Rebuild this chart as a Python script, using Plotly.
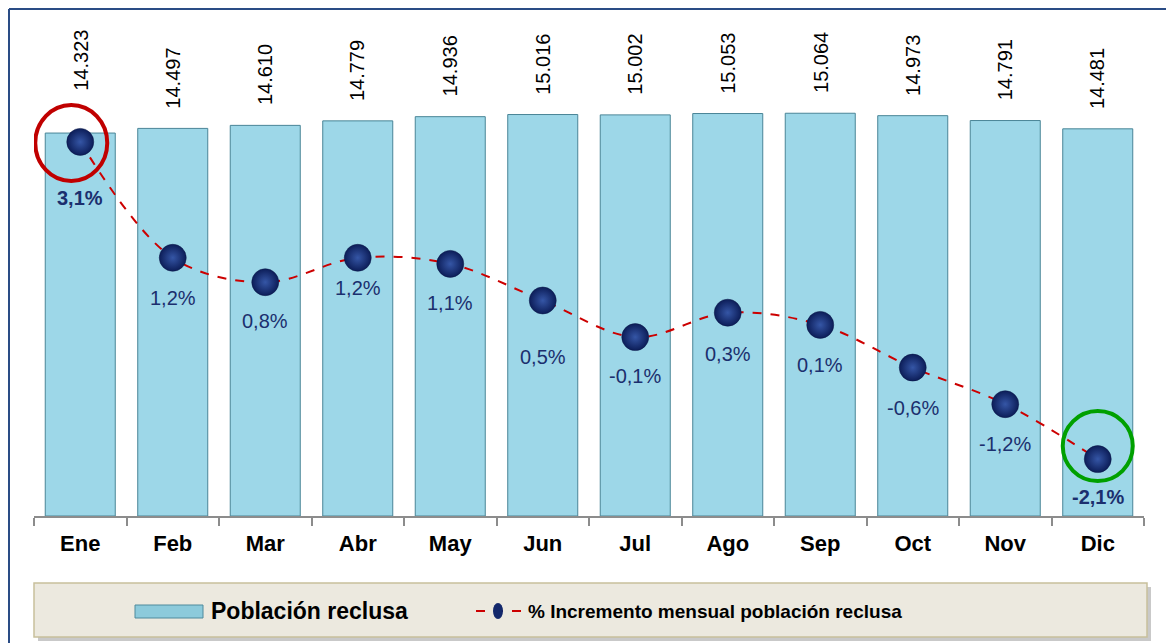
import plotly.graph_objects as go

# data
months = ['Ene', 'Feb', 'Mar', 'Abr', 'May', 'Jun', 'Jul', 'Ago', 'Sep', 'Oct', 'Nov', 'Dic']
poblacion = [14323, 14497, 14610, 14779, 14936, 15016, 15002, 15053, 15064, 14973, 14791, 14481]
incremento = [3.1, 1.2, 0.8, 1.2, 1.1, 0.5, -0.1, 0.3, 0.1, -0.6, -1.2, -2.1]
bar_labels = ['14.323', '14.497', '14.610', '14.779', '14.936', '15.016',
              '15.002', '15.053', '15.064', '14.973', '14.791', '14.481']
pct_labels = ['3,1%', '1,2%', '0,8%', '1,2%', '1,1%', '0,5%',
              '-0,1%', '0,3%', '0,1%', '-0,6%', '-1,2%', '-2,1%']

# label placement (pixels)
bar_label_shift = [40, 18, 18, 18, 18, 18, 18, 18, 18, 18, 18, 18]
pct_label_shift = [56, 40, 39, 30, 39, 57, 39, 41, 40, 40, 40, 38]

FONT = 'Arial, Liberation Sans, sans-serif'
NAVY = '#1b2f6e'

fig = go.Figure()

fig.add_trace(go.Bar(
	x=months, y=poblacion, name='Población reclusa',
	marker=dict(color='#9dd7e8', line=dict(color='#4a8597', width=1)),
	hoverinfo='x+y'
))

fig.add_trace(go.Scatter(
	x=months, y=incremento, yaxis='y2', name='% Incremento mensual población reclusa',
	mode='lines+markers',
	line=dict(color='#cc0000', width=2, dash='dash', shape='spline', smoothing=1),
	marker=dict(size=27, color='#0c1d58', line=dict(width=0.5, color='#0a1848'),
				gradient=dict(type='radial', color='#3556a6'))
))

annotations = []
for m, v, t, s in zip(months, poblacion, bar_labels, bar_label_shift):
	annotations.append(dict(
		x=m, y=v, xref='x', yref='y', text=t, textangle=-90, showarrow=False,
		yanchor='bottom', yshift=s, font=dict(family=FONT, size=20, color='#000000')
	))
for i, (m, v, t, s) in enumerate(zip(months, incremento, pct_labels, pct_label_shift)):
	bold = i in (0, len(months) - 1)
	annotations.append(dict(
		x=m, y=v, xref='x', yref='y2', text='<b>%s</b>' % t if bold else t, showarrow=False,
		yanchor='middle', yshift=-s, font=dict(family=FONT, size=20, color=NAVY)
	))


# reference pixel -> paper coords (plot area spans x 34..1144, y 8..516 in the reference)
def px_x(p):
	return (p - 34) / 1110.0


def px_y(p):
	return (516 - p) / 508.0


# hand drawn legend
annotations.append(dict(
	x=px_x(209), y=px_y(611), xref='paper', yref='paper', xanchor='left', yanchor='middle',
	text='<b>Población reclusa</b>', showarrow=False,
	font=dict(family=FONT, size=23, color='#000000')
))
annotations.append(dict(
	x=px_x(526), y=px_y(611), xref='paper', yref='paper', xanchor='left', yanchor='middle',
	text='<b>% Incremento mensual población reclusa</b>', showarrow=False,
	font=dict(family=FONT, size=19, color='#000000')
))

shapes = [
	# outer frame
	dict(type='line', xref='paper', yref='paper', x0=px_x(9), x1=px_x(9), y0=px_y(9), y1=px_y(660),
		 line=dict(color='#2a4c85', width=2)),
	dict(type='line', xref='paper', yref='paper', x0=px_x(9), x1=px_x(1200), y0=px_y(9), y1=px_y(9),
		 line=dict(color='#2a4c85', width=2)),
	# legend box shadow + box
	dict(type='rect', xref='paper', yref='paper', x0=px_x(38), x1=px_x(1151), y0=px_y(587), y1=px_y(641),
		 fillcolor='#c9c9c9', line=dict(width=0), layer='below'),
	dict(type='rect', xref='paper', yref='paper', x0=px_x(34), x1=px_x(1147), y0=px_y(583), y1=px_y(637),
		 fillcolor='#ece9df', line=dict(color='#c8c09c', width=1.5)),
	# legend swatches
	dict(type='rect', xref='paper', yref='paper', x0=px_x(135), x1=px_x(203), y0=px_y(605), y1=px_y(618),
		 fillcolor='#8ccadb', line=dict(color='#4f8a9c', width=1)),
	dict(type='line', xref='paper', yref='paper', x0=px_x(476), x1=px_x(522), y0=px_y(611), y1=px_y(611),
		 line=dict(color='#cc0000', width=2, dash='dash')),
	dict(type='circle', xref='paper', yref='paper', x0=px_x(493), x1=px_x(503), y0=px_y(603), y1=px_y(619),
		 fillcolor='#13286b', line=dict(width=0)),
	# highlight circles
	dict(type='circle', xref='x', yref='y2', xsizemode='pixel', ysizemode='pixel',
		 xanchor=months[0], yanchor=incremento[0], x0=-45, x1=27, y0=-39, y1=37,
		 line=dict(color='#c00000', width=4)),
	dict(type='circle', xref='x', yref='y2', xsizemode='pixel', ysizemode='pixel',
		 xanchor=months[-1], yanchor=incremento[-1], x0=-35, x1=35, y0=-22, y1=48,
		 line=dict(color='#00a000', width=4)),
]

# page body adds an 8px offset, so the figure is 8px smaller and margins shifted
fig.update_layout(
	width=1166, height=635,
	margin=dict(l=26, r=30, t=0, b=127),
	paper_bgcolor='white', plot_bgcolor='white',
	showlegend=False,
	bargap=0.243,
	font=dict(family=FONT),
	xaxis=dict(
		type='category', range=[-0.5, len(months) - 0.5], autorange=False,
		showline=True, linecolor='#8c8c8c', linewidth=1.5,
		ticks='outside', tickson='boundaries', ticklen=8, tickcolor='#8c8c8c', tickwidth=1.5,
		ticklabelstandoff=7,
		tickfont=dict(family=FONT, size=22, color='#000000', weight='bold'),
		showgrid=False, zeroline=False
	),
	yaxis=dict(range=[0, 19000], autorange=False, visible=False, showgrid=False, zeroline=False),
	yaxis2=dict(range=[-3.033, 5.295], autorange=False, overlaying='y', visible=False,
				showgrid=False, zeroline=False),
	annotations=annotations,
	shapes=shapes
)

fig.write_html('out.html')
